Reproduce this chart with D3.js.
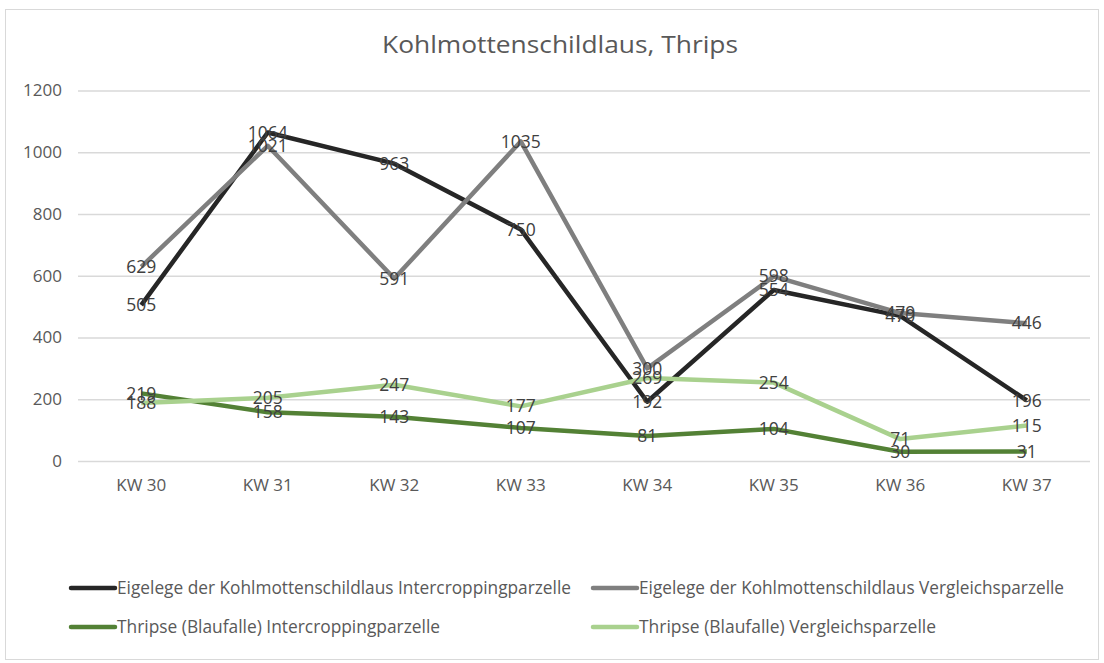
<!DOCTYPE html>
<html>
<head>
<meta charset="utf-8">
<script src="https://cdn.jsdelivr.net/npm/d3@7"></script>
<style>
  body { margin: 0; background: #fff; }
  svg { font-family: "Open Sans", "Liberation Sans", sans-serif; }
</style>
</head>
<body>
<svg id="chart" width="1104" height="663"></svg>
<script>
// categories and series
var weeks = ['KW 30', 'KW 31', 'KW 32', 'KW 33', 'KW 34', 'KW 35', 'KW 36', 'KW 37'];
var eigelegeInter = [505, 1064, 963, 750, 192, 554, 470, 196];
var eigelegeVergl = [629, 1021, 591, 1035, 300, 598, 479, 446];
var thripsInter = [219, 158, 143, 107, 81, 104, 30, 31];
var thripsVergl = [188, 205, 247, 177, 269, 254, 71, 115];
var yTicks = [0, 200, 400, 600, 800, 1000, 1200];
var seriesNames = [
    'Eigelege der Kohlmottenschildlaus Intercroppingparzelle',
    'Eigelege der Kohlmottenschildlaus Vergleichsparzelle',
    'Thripse (Blaufalle) Intercroppingparzelle',
    'Thripse (Blaufalle) Vergleichsparzelle'
];

var colors = ['#262626', '#7f7f7f', '#538135', '#a9d18e'];
var series = [eigelegeInter, eigelegeVergl, thripsInter, thripsVergl].map(function(v, i) {
    return {name: seriesNames[i], values: v, color: colors[i]};
});

var svg = d3.select('#chart');

// outer frame
svg.append('rect')
    .attr('x', 5.5).attr('y', 9.5)
    .attr('width', 1093).attr('height', 650)
    .attr('fill', '#fff')
    .attr('stroke', '#d9d9d9');

var padding = {t: 90.5, l: 78, r: 14, b: 202};
var chartWidth = 1090 - padding.l;
var chartHeight = 461 - padding.t;

var xScale = d3.scaleBand().domain(weeks).range([0, chartWidth]);
var yScale = d3.scaleLinear().domain([0, 1200]).range([chartHeight, 0]);

var chartG = svg.append('g')
    .attr('transform', 'translate(' + [padding.l, padding.t] + ')');

// title
svg.append('text')
    .attr('x', 560).attr('y', 53)
    .attr('text-anchor', 'middle')
    .attr('fill', '#595959')
    .style('font-size', '24px')
    .attr('textLength', 356)
    .attr('lengthAdjust', 'spacingAndGlyphs')
    .text('Kohlmottenschildlaus, Thrips');

// gridlines + y axis labels
var yAxis = d3.axisLeft(yScale).tickValues(yTicks).tickFormat(d3.format('d'))
    .tickSize(-chartWidth).tickPadding(16);
var yG = chartG.append('g').call(yAxis);
yG.select('.domain').remove();
yG.selectAll('line').attr('stroke', '#d9d9d9').attr('stroke-width', 1.3);
yG.selectAll('text')
    .attr('fill', '#595959')
    .style('font-size', '17px')
    .style('font-family', '"Open Sans", sans-serif');

// x axis labels
var xAxis = d3.axisBottom(xScale).tickSize(0).tickPadding(18);
var xG = chartG.append('g')
    .attr('transform', 'translate(0,' + chartHeight + ')')
    .call(xAxis);
xG.select('.domain').remove();
xG.selectAll('text')
    .attr('fill', '#595959')
    .style('font-size', '17px')
    .style('font-family', '"Open Sans", sans-serif');

var cx = function(d, i) { return xScale(weeks[i]) + xScale.bandwidth() / 2; };

var line = d3.line()
    .x(function(d, i) { return cx(d, i); })
    .y(function(d) { return yScale(d); });

chartG.selectAll('.series')
    .data(series)
    .enter()
    .append('path')
    .attr('class', 'series')
    .attr('d', function(d) { return line(d.values); })
    .attr('fill', 'none')
    .attr('stroke', function(d) { return d.color; })
    .attr('stroke-width', 4.5)
    .attr('stroke-linejoin', 'round');

// data labels, centred on the points
series.forEach(function(s) {
    chartG.selectAll(null)
        .data(s.values)
        .enter()
        .append('text')
        .attr('x', cx)
        .attr('y', function(d) { return yScale(d); })
        .attr('dy', '0.35em')
        .attr('text-anchor', 'middle')
        .attr('fill', '#404040')
        .style('font-size', '17.5px')
        .text(function(d) { return d; });
});

// legend
var legendPos = [
    {x: 70, y: 588, w: 454},
    {x: 592, y: 588, w: 425},
    {x: 70, y: 627, w: 323},
    {x: 592, y: 627, w: 297}
];
var legend = svg.selectAll('.legend')
    .data(series)
    .enter()
    .append('g')
    .attr('class', 'legend')
    .attr('transform', function(d, i) { return 'translate(' + [legendPos[i].x, legendPos[i].y] + ')'; });

legend.append('line')
    .attr('x1', 1).attr('x2', 45)
    .attr('stroke', function(d) { return d.color; })
    .attr('stroke-width', 4.5)
    .attr('stroke-linecap', 'round');

legend.append('text')
    .attr('x', 47)
    .attr('dy', '0.35em')
    .attr('fill', '#595959')
    .style('font-size', '17.5px')
    .attr('textLength', function(d, i) { return legendPos[i].w; })
    .attr('lengthAdjust', 'spacingAndGlyphs')
    .text(function(d) { return d.name; });
</script>
</body>
</html>
